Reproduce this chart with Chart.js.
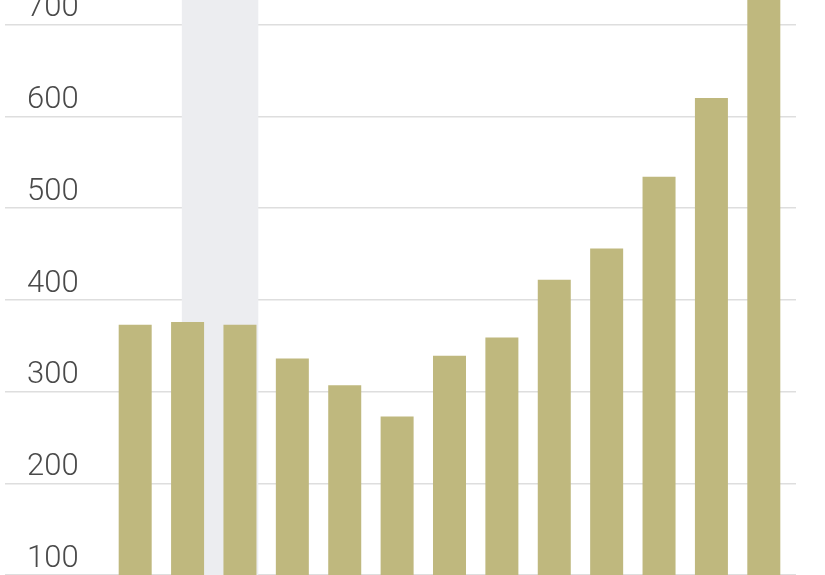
<!DOCTYPE html>
<html>
<head>
<meta charset="utf-8">
<script src="https://cdn.jsdelivr.net/npm/chart.js@4/dist/chart.umd.min.js"></script>
<style>
  html, body { margin: 0; padding: 0; background: #ffffff; overflow: hidden; }
  #wrap { position: absolute; left: 0; top: 0; width: 825px; height: 667px; }
</style>
</head>
<body>
<div id="wrap"><canvas id="c"></canvas></div>
<script>
// Data
const categories = ['1', '2', '3', '4', '5', '6', '7', '8', '9', '10', '11', '12', '13'];
const values = [373, 376, 373, 336, 307, 273, 339, 359, 422, 456, 534, 620, 760];
const yTicks = [100, 200, 300, 400, 500, 600, 700];
// shaded period, in category-index units
const shadeRange = [0.89, 2.35];

const shadePlugin = {
  id: 'shade',
  beforeDatasetsDraw(chart) {
    const { ctx, chartArea, scales } = chart;
    const x1 = scales.x.getPixelForValue(shadeRange[0]);
    const x2 = scales.x.getPixelForValue(shadeRange[1]);
    ctx.save();
    ctx.fillStyle = '#ecedf0';
    ctx.fillRect(x1, chartArea.top, x2 - x1, chartArea.bottom - chartArea.top);
    ctx.restore();
  }
};

function noPad(s) { s.paddingTop = 0; s.paddingBottom = 0; }

new Chart(document.getElementById('c'), {
  type: 'bar',
  data: {
    labels: categories,
    datasets: [{
      data: values,
      backgroundColor: '#bfb87e',
      borderWidth: 0,
      barPercentage: 0.63,
      categoryPercentage: 1.0
    }]
  },
  options: {
    responsive: true,
    maintainAspectRatio: false,
    animation: false,
    layout: { padding: { left: 27, right: 29, top: 0, bottom: 0 } },
    plugins: { legend: { display: false }, tooltip: { enabled: false } },
    scales: {
      x: { display: false },
      y: {
        position: 'left',
        min: 0,
        max: 726.7,
        afterFit(s) { s.width = 82; noPad(s); },
        afterBuildTicks(s) { s.ticks = yTicks.map(v => ({ value: v })); },
        border: { display: false },
        grid: { color: '#dedede', lineWidth: 1.5, tickLength: 104, drawTicks: true },
        ticks: {
          includeBounds: false,
          crossAlign: 'far',
          labelOffset: -16,
          color: '#4a4a4a',
          font: { family: 'Roboto', size: 31, weight: 300 }
        }
      },
      y2: {
        position: 'right',
        min: 0,
        max: 726.7,
        afterFit(s) { s.width = 6; noPad(s); },
        afterBuildTicks(s) { s.ticks = yTicks.map(v => ({ value: v })); },
        border: { display: false },
        grid: { color: '#dedede', lineWidth: 1.5, tickLength: 6, drawOnChartArea: false },
        ticks: { display: false }
      }
    }
  },
  plugins: [shadePlugin]
});
</script>
</body>
</html>
